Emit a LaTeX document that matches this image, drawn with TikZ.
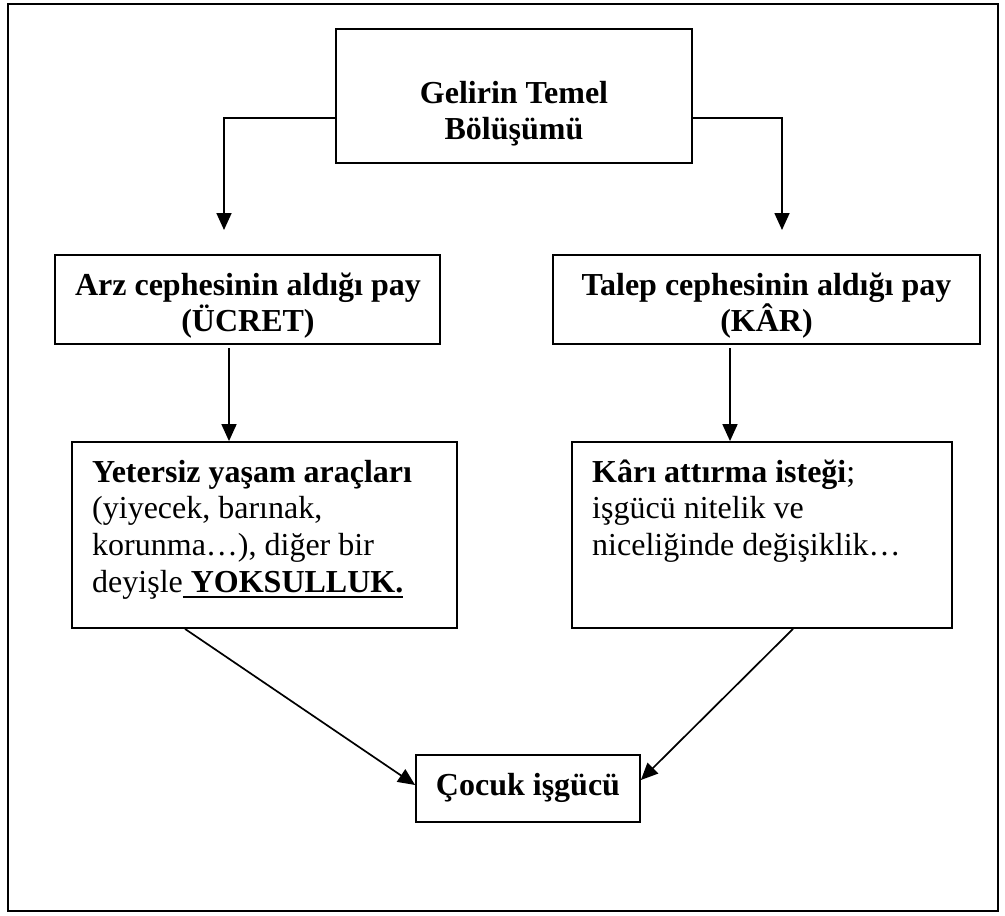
\documentclass[tikz,border=0pt]{standalone}
\usepackage{fontspec}
\setmainfont{Liberation Serif}
\usetikzlibrary{arrows.meta}
\newcommand\myul[1]{\setbox0\hbox{#1}\rlap{\rule[-6pt]{\wd0}{2.2pt}}\box0}
\begin{document}
\begin{tikzpicture}[x=1pt,y=-1pt,
  box/.style={draw,line width=1.8pt,inner sep=0pt},
  txt/.style={font=\fontsize{32}{36.7}\selectfont,inner sep=0pt},
  arr/.style={line width=1.7pt,-{Triangle[length=17pt,width=15pt]}}]
\useasboundingbox (0,0) rectangle (1005,916);
\draw[line width=2.6pt] (8,4) rectangle (998,911);
% boxes
\node[box,minimum width=356pt,minimum height=134pt] (top) at (514,96) {};
\node[box,minimum width=385pt,minimum height=89pt] (ml) at (247.5,299.5) {};
\node[box,minimum width=427pt,minimum height=89pt] (mr) at (766.5,299.5) {};
\node[box,minimum width=385pt,minimum height=186pt] (ll) at (264.5,535) {};
\node[box,minimum width=380pt,minimum height=186pt] (lr) at (762,535) {};
\node[box,minimum width=224pt,minimum height=67pt] (ck) at (528,788.5) {};
% texts
\node[txt,anchor=base] (ttop) at (514,103) {\parbox[t]{340pt}{\centering\bfseries Gelirin Temel\\Bölüşümü}};
\node[txt,anchor=base] (tml) at (248,295) {\parbox[t]{380pt}{\centering\bfseries Arz cephesinin aldığı pay\\(ÜCRET)}};
\node[txt,anchor=base] (tmr) at (766.5,295) {\parbox[t]{420pt}{\centering\bfseries Talep cephesinin aldığı pay\\(KÂR)}};
\node[txt,anchor=base west] (tll) at (92,482) {\parbox[t]{360pt}{\raggedright
  \textbf{Yetersiz yaşam araçları}\\
  (yiyecek, barınak,\\
  korunma…), diğer bir\\
  deyişle\myul{\textbf{\ YOKSULLUK.}}}};
\node[txt,anchor=base west] (tlr) at (592,482) {\parbox[t]{360pt}{\raggedright
  \textbf{Kârı attırma isteği};\\
  işgücü nitelik ve\\
  niceliğinde değişiklik…}};
\node[txt,anchor=base] (tck) at (528,795) {\textbf{Çocuk işgücü}};
% connectors
\coordinate (tl) at (224,118);
\coordinate (tle) at (224,230);
\coordinate (tr) at (782,118);
\coordinate (tre) at (782,230);
\draw[arr] (top.west |- tl) -- (tl) -- (tle);
\draw[arr] (top.east |- tr) -- (tr) -- (tre);
\coordinate (c1) at (229,348);
\coordinate (c2) at (730,348);
\draw[arr] (c1) -- (c1 |- ll.north);
\draw[arr] (c2) -- (c2 |- lr.north);
\coordinate (d1) at (185,628);
\coordinate (d1e) at (416,785);
\coordinate (d2) at (793,628);
\coordinate (d2e) at (640,780);
\draw[arr] (d1 |- ll.south) -- (ck.west |- d1e);
\draw[arr] (d2 |- lr.south) -- (ck.east |- d2e);
\end{tikzpicture}
\end{document}
